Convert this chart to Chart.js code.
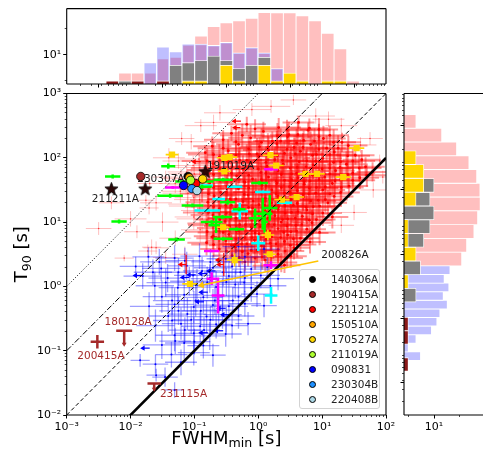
<!DOCTYPE html>
<html>
<head>
<meta charset="utf-8">
<title>FWHM vs T90</title>
<script src="https://cdn.jsdelivr.net/npm/chart.js@4.4.1/dist/chart.umd.min.js"></script>
<style>
  body { margin: 0; background: #fff; }
  #wrap { position: relative; width: 483px; height: 461px; overflow: hidden; font-family: "DejaVu Sans", sans-serif; }
  #wrap canvas { position: absolute; left: 0; top: 0; }
  #legend { position: absolute; left: 299px; top: 269px; width: 81px; height: 140px; box-sizing: border-box;
            border: 1px solid #d3d3d3; border-radius: 3px; background: rgba(255,255,255,0.85); }
  #legend .row { position: absolute; left: 0; width: 80px; height: 15px; }
  #legend .dot { position: absolute; left: 9px; top: 4px; width: 7px; height: 7px; border-radius: 50%;
                 box-sizing: border-box; border: 0.8px solid #000; }
  #legend .txt { position: absolute; left: 31px; top: 0; font-size: 10.5px; line-height: 15px; color: #222; }
</style>
</head>
<body>
<div id="wrap">
  <canvas id="top" width="483" height="461"></canvas>
  <canvas id="side" width="483" height="461"></canvas>
  <canvas id="main" width="483" height="461"></canvas>
  <div id="legend"></div>
</div>
<script>
// ===== histogram bins (log10 s) and counts =====
const fwhmBinEdges = [-3.000, -2.762, -2.524, -2.286, -2.048, -1.810, -1.571, -1.333, -1.095, -0.857, -0.619,
                      -0.381, -0.143, 0.095, 0.333, 0.571, 0.810, 1.048, 1.286, 1.524, 1.762, 2.000];
const fwhmCountsLong  = [0, 0, 2, 2, 2, 7, 8, 24, 53, 122, 170, 205, 255, 420, 410, 415, 316, 205, 68, 17, 1];
const fwhmCountsShort = [0, 0, 0, 0, 5, 20, 13, 26, 26, 23, 30, 12, 19, 12, 3, 0, 0, 0, 0, 0, 0];
const fwhmCountsGray  = [0, 0, 1, 0, 0, 0, 4, 5, 6, 9, 6, 3, 4, 8, 0, 0, 0, 0, 0, 0, 0];
const fwhmCountsGold  = [0, 0, 0, 0, 0, 0, 0, 1, 1, 0, 4, 1, 0, 4, 1, 2, 1, 0, 1, 1, 0];
const fwhmCountsDark  = [0, 1, 0, 1, 0, 1, 0, 0, 0, 0, 0, 0, 0, 0, 0, 0, 0, 0, 0, 0, 0];

const t90EdgesLong  = [0.301, 0.536, 0.772, 1.007, 1.243, 1.478, 1.714, 1.949, 2.185, 2.420, 2.656, 2.891];
const t90CountsLong = [120, 187, 360, 500, 630, 617, 460, 230, 76, 20, 2];
const t90EdgesShort  = [-1.317, -1.170, -1.023, -0.876, -0.729, -0.582, -0.435, -0.288, -0.141, 0.006, 0.154, 0.301];
const t90CountsShort = [3, 1, 2, 8, 13, 17, 33, 23, 38, 25, 42];
const t90EdgesGray  = [-0.318, -0.083, 0.151, 0.386, 0.621, 0.855, 1.090, 1.325, 1.559, 1.794];
const t90CountsGray = [2, 0, 3, 0, 4, 7, 10, 7, 10];
const t90EdgesGold  = [-0.085, 0.150, 0.386, 0.621, 0.857, 1.092, 1.328, 1.563, 1.799, 2.034, 2.270];
const t90CountsGold = [1, 0, 2, 1, 1, 0, 2, 4, 4, 2];
const t90EdgesDark  = [-1.500, -1.269, -1.038, -0.808, -0.577];
const t90CountsDark = [1, 0, 1, 1];

// ===== scatter data: [log10 FWHM, log10 T90, x err (dex), y err (dex)] =====
const longBursts = [
  [-0.18,2.52,.3,.12],[0.32,2.47,.35,.15],[0.63,2.55,.25,.1],[0.95,2.44,.3,.18],
  [-0.42,2.38,.3,.12],[0.08,2.41,.4,.15],[0.48,2.36,.3,.2],[0.78,2.43,.35,.12],[1.12,2.35,.3,.15],
  [-0.55,2.28,.3,.15],[-0.12,2.31,.35,.2],[0.22,2.26,.3,.15],[0.46,2.33,.4,.2],[0.71,2.27,.3,.15],[1.02,2.3,.35,.2],[1.31,2.24,.3,.15],
  [-0.72,2.18,.3,.15],[-0.31,2.21,.35,.2],[0.02,2.17,.3,.15],[0.29,2.22,.4,.2],[0.56,2.16,.3,.15],[0.82,2.21,.35,.2],[1.07,2.15,.3,.2],[1.41,2.19,.3,.15],
  [-0.83,2.08,.3,.12],[-0.47,2.11,.35,.18],[-0.14,2.06,.3,.2],[0.16,2.12,.4,.2],[0.41,2.07,.35,.18],[0.66,2.1,.3,.2],[0.91,2.05,.35,.2],[1.19,2.09,.3,.18],[1.52,2.04,.3,.15],
  [-0.61,2.01,.3,.2],[-0.29,1.96,.35,.2],[0.01,2.02,.4,.22],[0.26,1.97,.35,.2],[0.51,2.0,.3,.2],[0.76,1.95,.35,.22],[1.01,1.99,.3,.2],[1.29,1.94,.35,.2],[1.62,1.97,.3,.15],
  [-0.71,1.91,.3,.18],[-0.41,1.86,.35,.2],[-0.11,1.92,.4,.22],[0.14,1.87,.35,.2],[0.39,1.9,.4,.22],[0.61,1.85,.35,.2],[0.86,1.89,.3,.22],[1.12,1.84,.35,.2],[1.38,1.9,.3,.2],[1.68,1.86,.3,.15],
  [-0.82,1.81,.3,.18],[-0.52,1.76,.35,.2],[-0.24,1.82,.4,.22],[0.04,1.77,.35,.22],[0.31,1.8,.4,.2],[0.52,1.75,.35,.22],[0.71,1.79,.4,.2],[0.96,1.74,.35,.22],[1.21,1.8,.3,.2],[1.48,1.76,.35,.2],[1.79,1.78,.25,.15],
  [-0.62,1.66,.35,.2],[-0.34,1.72,.4,.22],[-0.09,1.67,.35,.22],[0.16,1.7,.4,.22],[0.41,1.65,.35,.2],[0.62,1.69,.4,.22],[0.81,1.64,.35,.22],[1.04,1.7,.35,.2],[1.31,1.66,.35,.2],[1.59,1.69,.3,.18],
  [-0.76,1.61,.35,.2],[-0.49,1.56,.35,.2],[-0.21,1.62,.4,.22],[0.06,1.57,.35,.22],[0.29,1.6,.4,.25],[0.49,1.55,.35,.22],[0.72,1.59,.4,.22],[0.91,1.54,.35,.22],[1.16,1.6,.35,.2],[1.42,1.56,.3,.18],
  [-0.88,1.51,.35,.2],[-0.59,1.46,.35,.22],[-0.31,1.52,.4,.22],[-0.04,1.47,.35,.22],[0.21,1.5,.4,.25],[0.41,1.45,.35,.22],[0.61,1.49,.4,.25],[0.79,1.44,.35,.22],[1.01,1.5,.35,.2],[1.29,1.46,.3,.2],
  [-0.69,1.41,.35,.2],[-0.44,1.36,.35,.22],[-0.16,1.42,.4,.22],[0.11,1.37,.35,.25],[0.31,1.4,.4,.25],[0.51,1.35,.35,.22],[0.71,1.39,.35,.22],[0.94,1.34,.35,.22],[1.19,1.4,.3,.2],
  [-0.79,1.31,.35,.2],[-0.51,1.26,.35,.22],[-0.24,1.32,.4,.22],[0.01,1.27,.35,.25],[0.21,1.3,.4,.25],[0.42,1.25,.35,.22],[0.61,1.29,.35,.22],[0.86,1.24,.35,.22],[1.09,1.3,.3,.2],
  [-0.61,1.21,.35,.2],[-0.36,1.16,.35,.22],[-0.09,1.22,.4,.25],[0.11,1.17,.35,.25],[0.31,1.2,.35,.25],[0.52,1.15,.35,.22],[0.76,1.19,.35,.22],[1.01,1.14,.3,.2],[1.16,1.08,.25,.18],
  [-0.71,1.11,.35,.22],[-0.44,1.06,.35,.22],[-0.19,1.12,.35,.25],[0.06,1.07,.35,.25],[0.26,1.1,.35,.25],[0.46,1.05,.35,.22],[0.69,1.09,.35,.22],[0.91,1.04,.3,.2],
  [-0.81,0.98,.3,.2],[-0.52,1.01,.35,.22],[-0.29,0.96,.35,.22],[-0.04,1.02,.35,.25],[0.16,0.97,.35,.25],[0.36,1.0,.35,.22],[0.59,0.95,.3,.22],[0.84,0.99,.3,.2],
  [-0.61,0.91,.35,.22],[-0.34,0.86,.35,.22],[-0.11,0.92,.35,.25],[0.11,0.87,.35,.22],[0.31,0.9,.35,.22],[0.51,0.85,.3,.22],[0.76,0.89,.3,.2],[0.96,0.84,.25,.2],
  [-0.71,0.78,.3,.2],[-0.46,0.81,.35,.22],[-0.21,0.76,.35,.22],[0.01,0.82,.35,.22],[0.21,0.77,.35,.22],[0.46,0.8,.3,.2],[0.66,0.75,.3,.2],
  [-0.81,0.68,.3,.2],[-0.51,0.71,.3,.2],[-0.26,0.66,.35,.22],[-0.06,0.72,.35,.22],[0.19,0.67,.3,.22],[0.41,0.7,.3,.2],[0.61,0.65,.3,.2],[0.81,0.69,.25,.18],
  [-0.61,0.58,.3,.2],[-0.36,0.61,.3,.2],[-0.11,0.56,.3,.2],[0.09,0.62,.3,.22],[0.31,0.57,.3,.2],[0.56,0.6,.25,.18],
  [-0.41,0.48,.3,.18],[-0.16,0.51,.3,.2],[0.06,0.46,.3,.2],[0.31,0.5,.3,.2],[0.51,0.47,.25,.18],
  [-0.21,0.38,.25,.15],[0.11,0.41,.3,.18],[0.36,0.37,.25,.15],[0.16,0.32,.25,.12],[0.41,0.33,.25,.12],
  [-0.05,2.45,.35,.15],[0.45,2.44,.4,.15],[0.8,2.46,.3,.15],
  [-0.25,2.35,.35,.18],[0.3,2.34,.4,.2],[0.62,2.36,.35,.18],[0.95,2.33,.4,.2],
  [-0.35,2.25,.4,.2],[0.05,2.24,.45,.22],[0.35,2.26,.4,.2],[0.6,2.23,.45,.22],[0.88,2.26,.4,.2],[1.18,2.24,.35,.2],
  [-0.55,2.15,.4,.2],[-0.15,2.14,.45,.22],[0.15,2.16,.45,.22],[0.45,2.13,.45,.25],[0.7,2.16,.4,.22],[0.95,2.13,.45,.22],[1.25,2.15,.35,.2],
  [-0.7,2.05,.4,.2],[-0.35,2.04,.45,.22],[-0.02,2.06,.45,.25],[0.3,2.03,.45,.25],[0.58,2.06,.45,.25],[0.85,2.04,.45,.25],[1.12,2.05,.4,.22],[1.4,2.03,.35,.2],
  [-0.8,1.95,.4,.2],[-0.48,1.94,.45,.22],[-0.18,1.96,.45,.25],[0.12,1.93,.45,.25],[0.38,1.96,.45,.25],[0.64,1.94,.45,.25],[0.9,1.95,.45,.25],[1.18,1.93,.4,.22],[1.48,1.95,.35,.2],
  [-0.6,1.84,.45,.22],[-0.3,1.86,.45,.25],[0.0,1.83,.45,.25],[0.25,1.86,.45,.25],[0.5,1.84,.45,.25],[0.75,1.86,.45,.25],[1.0,1.83,.45,.25],[1.28,1.85,.4,.22],[1.58,1.84,.35,.2],
  [-0.7,1.74,.45,.22],[-0.42,1.76,.45,.25],[-0.15,1.73,.45,.25],[0.12,1.76,.45,.25],[0.36,1.74,.45,.25],[0.6,1.76,.45,.25],[0.85,1.73,.45,.25],[1.12,1.75,.45,.22],[1.4,1.74,.4,.22],[1.7,1.73,.3,.18],
  [-0.78,1.64,.45,.22],[-0.48,1.66,.45,.25],[-0.22,1.63,.45,.25],[0.05,1.66,.45,.25],[0.28,1.64,.45,.25],[0.52,1.66,.45,.25],[0.72,1.63,.45,.25],[0.95,1.66,.45,.25],[1.2,1.64,.4,.22],[1.48,1.65,.35,.2],
  [-0.7,1.54,.45,.22],[-0.42,1.56,.45,.25],[-0.15,1.53,.45,.25],[0.12,1.56,.45,.25],[0.36,1.54,.45,.25],[0.58,1.56,.45,.25],[0.8,1.53,.45,.25],[1.05,1.55,.4,.22],[1.3,1.54,.35,.2],
  [-0.78,1.44,.45,.22],[-0.5,1.46,.45,.25],[-0.22,1.43,.45,.25],[0.05,1.46,.45,.25],[0.28,1.44,.45,.25],[0.5,1.46,.45,.25],[0.7,1.43,.45,.25],[0.9,1.45,.4,.22],[1.12,1.44,.35,.2],
  [-0.62,1.34,.45,.22],[-0.35,1.36,.45,.25],[-0.08,1.33,.45,.25],[0.18,1.36,.45,.25],[0.4,1.34,.45,.25],[0.62,1.36,.45,.25],[0.82,1.33,.4,.22],[1.05,1.35,.35,.2],
  [-0.7,1.24,.45,.22],[-0.42,1.26,.45,.25],[-0.15,1.23,.45,.25],[0.1,1.26,.45,.25],[0.32,1.24,.45,.25],[0.55,1.26,.4,.25],[0.75,1.23,.4,.22],[0.96,1.25,.35,.2],
  [-0.78,1.15,.4,.2],[-0.5,1.14,.45,.22],[-0.25,1.16,.45,.25],[0.0,1.13,.45,.25],[0.22,1.16,.45,.25],[0.42,1.14,.4,.22],[0.62,1.16,.4,.22],[0.85,1.13,.35,.2],
  [-0.6,1.04,.4,.22],[-0.35,1.06,.45,.25],[-0.1,1.03,.45,.25],[0.15,1.06,.4,.25],[0.38,1.04,.4,.22],[0.58,1.06,.35,.22],[0.8,1.03,.35,.2],
  [-0.7,0.95,.4,.2],[-0.45,0.94,.4,.22],[-0.2,0.96,.4,.25],[0.03,0.93,.4,.22],[0.25,0.96,.4,.22],[0.45,0.94,.35,.22],[0.68,0.96,.3,.2],
  [-0.8,0.85,.35,.2],[-0.55,0.84,.4,.22],[-0.3,0.86,.4,.22],[-0.05,0.83,.4,.22],[0.18,0.86,.4,.22],[0.4,0.84,.35,.2],[0.6,0.86,.3,.2],[0.85,0.83,.25,.18],
  [-0.62,0.75,.35,.2],[-0.35,0.74,.4,.22],[-0.1,0.76,.4,.22],[0.12,0.73,.35,.22],[0.35,0.76,.35,.2],[0.55,0.74,.3,.2],
  [-0.7,0.65,.35,.2],[-0.42,0.64,.35,.2],[-0.18,0.66,.35,.22],[0.05,0.63,.35,.2],[0.28,0.66,.3,.2],[0.5,0.64,.3,.18],
  [-0.5,0.55,.3,.18],[-0.25,0.54,.35,.2],[-0.02,0.56,.35,.2],[0.2,0.53,.3,.2],[0.42,0.55,.3,.18],
  [-0.3,0.45,.3,.15],[-0.05,0.44,.3,.18],[0.2,0.46,.3,.18],[0.45,0.44,.25,.15]
];
const longHalo = [
  [-0.93,1.98,.3,.15],[-1.02,1.88,.3,.15],[-1.12,1.78,.3,.15],[-1.21,1.68,.3,.15],[-0.91,1.71,.3,.2],[-1.13,1.58,.3,.15],
  [-1.22,1.48,.3,.18],[-1.01,1.38,.3,.18],[-1.11,1.28,.3,.18],[-0.91,1.18,.3,.2],[-1.01,1.08,.3,.2],[-0.91,0.88,.3,.2],
  [-0.92,1.85,.4,.2],[-1.0,1.75,.4,.2],[-1.05,1.65,.4,.2],[-0.98,1.55,.4,.2],[-1.1,1.45,.4,.2],[-0.92,1.35,.4,.2],
  [-1.0,1.25,.4,.2],[-0.88,1.05,.4,.2],
  [-2.3,1.3,.2,.1],[-2.5,0.9,.2,.1],[-2.0,1.05,.25,.12],[-1.9,0.85,.2,.1],[-1.6,1.3,.25,.12],[-1.5,1.0,.25,.15],
  [-1.3,1.6,.25,.15],[-1.7,1.6,.2,.1],[-1.4,2.0,.25,.15],[-1.2,2.3,.2,.1],[-0.9,2.5,.25,.1],[-0.6,2.7,.25,.12],
  [-0.1,2.75,.3,.1],[0.55,2.9,.2,.08],[0.9,2.65,.3,.12],[1.3,2.5,.25,.12],[1.6,2.2,.25,.12],[1.9,1.95,.15,.1],
  [1.5,1.15,.2,.12],[1.8,1.5,.2,.12],[-1.6,0.6,.2,.1],[-1.3,0.75,.25,.12],[-1.71,1.22,.15,.1],[-1.73,0.55,.15,.1],
  [-2.1,0.44,.15,.05],[-1.67,0.61,.15,.12],[-1.76,1.34,.12,.08],[-1.45,1.7,.2,.1],[-1.25,1.95,.25,.12],
  [-1.05,2.25,.25,.12],[-0.7,2.55,.3,.12],[0.2,2.8,.3,.1],[1.1,2.6,.25,.12],[1.75,2.3,.2,.1],[1.95,1.7,.15,.1],
  [1.3,0.95,.2,.12],[-1.45,0.45,.2,.1],[-1.15,0.5,.2,.12]
];
const shortBursts = [
  [-1.72,0.46,.25,.15],[-1.31,0.44,.3,.2],[-0.92,0.47,.3,.2],[-0.51,0.43,.3,.2],[-0.21,0.46,.25,.18],
  [-1.92,0.31,.25,.15],[-1.52,0.28,.3,.2],[-1.12,0.32,.3,.22],[-0.71,0.29,.3,.2],[-0.41,0.31,.3,.22],[-0.11,0.27,.3,.2],[0.14,0.3,.25,.18],
  [-1.81,0.16,.3,.2],[-1.42,0.13,.3,.22],[-1.02,0.17,.3,.25],[-0.76,0.12,.3,.22],[-0.46,0.16,.3,.25],[-0.21,0.13,.3,.22],[0.04,0.17,.3,.2],[0.31,0.12,.25,.18],
  [-1.62,0.01,.3,.22],[-1.26,-0.02,.3,.25],[-0.96,0.02,.3,.25],[-0.66,-0.01,.3,.25],[-0.36,0.03,.3,.22],[-0.11,-0.02,.3,.22],[0.19,0.01,.25,.2],
  [-1.51,-0.16,.3,.25],[-1.16,-0.13,.3,.25],[-0.86,-0.17,.3,.25],[-0.56,-0.14,.3,.25],[-0.31,-0.16,.3,.22],[-0.02,-0.12,.25,.2],
  [-1.71,-0.31,.3,.22],[-1.31,-0.28,.3,.25],[-1.01,-0.32,.3,.25],[-0.71,-0.29,.3,.25],[-0.46,-0.31,.3,.22],[-0.21,-0.27,.25,.2],[0.09,-0.3,.2,.18],
  [-1.41,-0.46,.3,.25],[-1.11,-0.43,.3,.25],[-0.81,-0.47,.3,.25],[-0.56,-0.44,.3,.22],[-0.31,-0.46,.25,.2],
  [-1.61,-0.61,.3,.25],[-1.21,-0.58,.3,.25],[-0.91,-0.62,.3,.25],[-0.66,-0.59,.25,.22],[-0.41,-0.61,.25,.2],[-0.16,-0.58,.2,.18],
  [-1.31,-0.76,.3,.25],[-1.01,-0.73,.3,.25],[-0.76,-0.77,.25,.22],[-0.51,-0.74,.25,.2],
  [-1.51,-0.91,.3,.22],[-1.16,-0.88,.3,.25],[-0.86,-0.92,.25,.2],
  [-1.36,-1.06,.25,.2],[-1.01,-1.03,.25,.2],[-0.71,-1.07,.2,.18],
  [-1.61,-1.21,.2,.15],[-1.21,-1.18,.25,.2],[-1.46,-1.41,.2,.15],[-1.31,-1.61,.15,.12],[-1.85,-1.15,.15,.1],[-1.6,-1.38,.15,.1],
  [-0.31,0.62,.25,.15],[0.09,0.58,.25,.15],
  [-1.55,0.38,.3,.2],[-1.15,0.4,.3,.2],[-0.75,0.38,.3,.2],[-0.35,0.38,.3,.2],[-1.65,0.22,.3,.2],[-1.25,0.22,.3,.22],
  [-0.88,0.24,.3,.22],[-0.55,0.22,.3,.22],[-0.28,0.22,.3,.2],[-1.45,0.06,.3,.22],[-1.08,0.08,.3,.22],[-0.8,0.06,.3,.25],
  [-0.5,0.07,.3,.22],[-0.22,0.06,.3,.2],[-1.35,-0.22,.3,.22],[-0.98,-0.22,.3,.25],[-0.68,-0.22,.3,.22],[-0.4,-0.22,.25,.2],
  [-1.25,-0.38,.3,.22],[-0.9,-0.38,.3,.22],[-0.62,-0.37,.25,.22],[-1.35,-0.53,.3,.22],[-1.05,-0.52,.3,.22],[-0.75,-0.52,.25,.2],
  [-0.5,-0.52,.25,.2],[-1.15,-0.68,.25,.2],[-0.85,-0.68,.25,.2],[-1.3,-0.85,.25,.2],[-1.0,-0.86,.25,.2]
];
// FWHM upper limits: [log10 FWHM, log10 T90, arrow length (dex), y err (dex)]
const longLimits = [[-0.27,2.57,.15,0],[-0.28,2.47,.13,0],[-0.90,1.94,.15,0],[-1.13,0.34,.13,.15],
                    [-0.54,0.34,.12,.18],[-0.64,0.77,.12,0],[-0.56,0.41,.12,0],[-0.30,0.64,.12,0]];
const shortLimits = [[-1.82,0.17,.15,0],[-1.08,0.14,.15,0],[-0.98,0.18,.15,0],[-0.80,0.20,.15,0],[-0.67,0.24,.15,0],
                     [-0.65,0.12,.15,0],[-0.79,-0.09,.15,0],[-0.85,-0.24,.15,0],[-0.51,-0.34,.15,0],[-0.45,-0.44,.15,0],
                     [-0.55,-0.69,.15,0],[-0.79,-0.72,.15,0],[-1.70,-0.96,.15,0]];
const greenBursts = [[-2.28,1.71,.12,.03],[-1.41,1.87,.11,.04],[-2.18,1.01,.12,.03],[-1.28,0.73,.13,.03],[-1.03,1.26,.17,.03],
                     [-1.38,1.41,.2,.03],[-1.0,1.63,.3,.03],[-0.55,1.66,.15,.03],[-0.48,1.31,.12,.04],[0.02,1.61,.13,.03],
                     [0.07,1.13,.15,.25],[-0.56,1.08,.15,.03],[-0.73,1.0,.17,.03],[0.18,1.22,.12,.2],[-0.66,0.95,.12,.12],
                     [-0.55,0.74,.15,.03],[-0.34,0.89,.12,.03],[-0.05,1.06,.1,.15],[0.1,1.0,.05,.17],[-0.88,1.55,.15,.03],[-0.3,1.2,.1,.03]];
const cyanBursts = [[-0.81,1.57,.1,.02],[-0.8,1.18,.2,.02],[-0.37,1.55,.12,.02],[0.07,1.47,.12,.02],[0.41,1.3,.12,.02],
                    [-0.29,1.17,.13,.13],[0.0,0.67,.11,.12],[0.2,-0.14,.1,.13],[-0.62,1.36,.1,.02]];
const magentaBursts = [[-1.34,1.54,.12,.02],[0.2,1.82,.11,.02],[-0.73,0.55,.12,.02],[-0.73,0.12,.08,.1],[-0.63,-0.14,.1,.28],[0.2,0.33,.12,.06]];
const goldBursts = [[-1.35,2.05,.1,.03],[-0.53,2.0,.12,.04],[-0.45,2.01,.12,.04],[0.19,2.04,.12,.04],[0.28,1.88,.12,.04],
                    [-0.53,1.79,.1,.04],[0.74,1.75,.12,.04],[0.92,1.75,.12,.04],[1.33,1.7,.12,.04],[1.54,2.15,.12,.04],
                    [0.6,1.39,.12,.04],[0.37,1.35,.12,.04],[-0.55,0.92,.1,.04],[0.15,0.8,.1,.08],[0.18,0.5,.1,.04],
                    [-0.37,0.41,.12,.1],[-1.07,0.04,.12,.03]];

const sampleNames  = ['140306A', '190415A', '221121A', '150510A', '170527A', '211019A', '090831', '230304B', '220408B'];
const sampleColors = ['#000000', '#a52a2a', '#ff0000', '#ffa500', '#ffd700', '#adff2f', '#0000ff', '#1e90ff', '#add8e6'];
const sampleFwhm   = [-1.10, -1.84, -0.98, -1.08, -0.87, -1.06, -1.17, -1.04, -0.96];
const sampleT90    = [1.71, 1.71, 1.60, 1.69, 1.67, 1.65, 1.57, 1.52, 1.49];

const starNames = ['211211A', '230307A', '191019A'];
const starFwhm  = [-2.30, -1.77, -0.83];
const starT90   = [1.52, 1.52, 1.79];

const brownCross = [[-2.52, -0.86, 0.105, 0.104]];                     // 200415A
const brownUpper = [[-2.10, -0.69, 0.125, 0.25], [-1.63, -1.51, 0.105, 0.13]]; // 180128A, 231115A: cap, stem (dex)
const arrow200826A = [[0.94, 0.396, -0.95, 0.007]];                     // from label to burst

const lineRatios = [1, 10, 100, 1000];   // T90 = k * FWHM

const burstLabels = [
  ['211211A', -2.30, 1.52, 4, 11, '#1a1a1a', 'center'],
  ['230307A', -1.77, 1.52, -8, -9, '#1a1a1a', 'left'],
  ['191019A', -0.83, 1.79, 1.6, -5, '#1a1a1a', 'left'],
  ['200826A', 0.94, 0.396, 3, -6, '#1a1a1a', 'left'],
  ['180128A', -2.10, -0.69, 4, -9, '#a52a2a', 'center'],
  ['200415A', -2.52, -0.86, 3.6, 15, '#a52a2a', 'center'],
  ['231115A', -1.63, -1.51, 5.7, 10.7, '#a52a2a', 'left']
];

const xMajorTicks = [1e-3, 1e-2, 1e-1, 1, 10, 100];
const xTickLabels = ['10⁻³', '10⁻²', '10⁻¹', '10⁰', '10¹', '10²'];
const yMajorTicks = [1e-2, 1e-1, 1, 10, 100, 1000];
const yTickLabels = ['10⁻²', '10⁻¹', '10⁰', '10¹', '10²', '10³'];
const histMajorTicks = [10];
const histMinorTicks = [1, 100];
const histTickLabels = ['10¹'];

// ===== helpers =====
const F = v => Math.pow(10, v);
const FONT = 'DejaVu Sans';

function minorTicks(lo, hi) {
  const out = [];
  for (let k = Math.floor(Math.log10(lo)); k <= Math.ceil(Math.log10(hi)); k++) {
    for (let m = 2; m <= 9; m++) {
      const v = m * Math.pow(10, k);
      if (v > lo && v < hi) out.push(v);
    }
  }
  return out;
}

function toPoints(rows) {
  return rows.map(([lx, ly, ex, ey]) => ({
    x: F(lx), y: F(ly),
    xMin: ex ? F(lx - ex) : null, xMax: ex ? F(lx + ex) : null,
    yMin: ey ? F(ly - ey) : null, yMax: ey ? F(ly + ey) : null
  }));
}
function toLimits(rows) {
  return rows.map(([lx, ly, len, ey]) => ({
    x: F(lx), y: F(ly), xEnd: F(lx - len),
    yMin: ey ? F(ly - ey) : null, yMax: ey ? F(ly + ey) : null
  }));
}
function histBars(edges, counts, horizontal) {
  const out = [];
  counts.forEach((c, i) => {
    if (!c) return;
    const mid = (edges[i] + edges[i + 1]) / 2;
    out.push(horizontal ? { x: c, y: mid } : { x: mid, y: c });
  });
  return out;
}

function tickAxis(o) {
  return {
    type: 'logarithmic', axis: o.axis, position: o.position, min: o.min, max: o.max, weight: o.weight,
    border: { display: false },
    grid: { drawOnChartArea: false, drawTicks: true, tickLength: o.length, tickWidth: o.width, tickColor: '#000', lineWidth: 1 },
    ticks: {
      display: !!o.labels, autoSkip: false, maxRotation: 0, padding: 2, color: '#000',
      font: { family: FONT, size: 11 },
      callback: (v, i) => (o.labels ? o.labels[i] : '')
    },
    afterBuildTicks: s => { s.ticks = o.values.map(v => ({ value: v })); },
    afterFit: s => { if (s.isHorizontal()) s.height = o.size; else s.width = o.size; }
  };
}

function drawArrow(ctx, x0, y0, x1, y1, head) {
  const a = Math.atan2(y1 - y0, x1 - x0);
  ctx.beginPath();
  ctx.moveTo(x0, y0);
  ctx.lineTo(x1 - Math.cos(a) * head * 0.6, y1 - Math.sin(a) * head * 0.6);
  ctx.stroke();
  ctx.beginPath();
  ctx.moveTo(x1, y1);
  ctx.lineTo(x1 - head * Math.cos(a) + head * 0.6 * Math.sin(a), y1 - head * Math.sin(a) - head * 0.6 * Math.cos(a));
  ctx.lineTo(x1 - head * Math.cos(a) - head * 0.6 * Math.sin(a), y1 - head * Math.sin(a) + head * 0.6 * Math.cos(a));
  ctx.closePath();
  ctx.fill();
}

function drawBurstLabels(chart) {
  const { ctx, scales: { x, y } } = chart;
  ctx.save();
  ctx.font = '10.5px "' + FONT + '"';
  ctx.textBaseline = 'middle';
  burstLabels.forEach(([text, lx, ly, dx, dy, color, align]) => {
    ctx.fillStyle = color;
    ctx.textAlign = align;
    ctx.fillText(text, x.getPixelForValue(F(lx)) + dx, y.getPixelForValue(F(ly)) + dy);
  });
  ctx.restore();
}

// error bars before the points, arrows (and labels) after them
const errorBars = {
  id: 'errorBars',
  beforeDatasetDraw(chart, args) {
    const ds = chart.data.datasets[args.index];
    if (!ds.err) return;
    const { ctx, chartArea: a, scales: { x, y } } = chart;
    ctx.save();
    ctx.beginPath();
    ctx.rect(a.left, a.top, a.right - a.left, a.bottom - a.top);
    ctx.clip();
    ctx.strokeStyle = ds.err.color;
    ctx.lineWidth = ds.err.width;
    for (const p of ds.data) {
      const px = x.getPixelForValue(p.x), py = y.getPixelForValue(p.y);
      if (p.xMin != null) {
        ctx.beginPath();
        ctx.moveTo(x.getPixelForValue(p.xMin), py);
        ctx.lineTo(x.getPixelForValue(p.xMax), py);
        ctx.stroke();
      }
      if (p.yMin != null) {
        ctx.beginPath();
        ctx.moveTo(px, y.getPixelForValue(p.yMin));
        ctx.lineTo(px, y.getPixelForValue(p.yMax));
        ctx.stroke();
      }
    }
    ctx.restore();
  },
  afterDatasetDraw(chart, args) {
    const ds = chart.data.datasets[args.index];
    if (ds.labelsAfter) drawBurstLabels(chart);
    if (!ds.arrow) return;
    const { ctx, scales: { x, y } } = chart;
    ctx.save();
    ctx.strokeStyle = ds.arrow.color;
    ctx.fillStyle = ds.arrow.color;
    ctx.lineWidth = ds.arrow.width;
    for (const p of ds.data) {
      const px = x.getPixelForValue(p.x), py = y.getPixelForValue(p.y);
      const ex = p.xEnd != null ? x.getPixelForValue(p.xEnd) : px;
      const ey = p.yEnd != null ? y.getPixelForValue(p.yEnd) : py;
      drawArrow(ctx, px, py, ex, ey, ds.arrow.head);
    }
    ctx.restore();
  }
};

function drawSubText(ctx, base, sub, tail, cx, cy, size) {
  const f = size + 'px "' + FONT + '"', fs = (size * 0.7) + 'px "' + FONT + '"';
  ctx.font = f;
  const w1 = ctx.measureText(base).width, w3 = ctx.measureText(tail).width;
  ctx.font = fs;
  const w2 = ctx.measureText(sub).width;
  const x0 = cx - (w1 + w2 + w3) / 2;
  ctx.textAlign = 'left';
  ctx.textBaseline = 'alphabetic';
  ctx.font = f; ctx.fillText(base, x0, cy);
  ctx.font = fs; ctx.fillText(sub, x0 + w1, cy + size * 0.22);
  ctx.font = f; ctx.fillText(tail, x0 + w1 + w2, cy);
}

const axisTitles = {
  id: 'axisTitles',
  afterDraw(chart) {
    const { ctx, chartArea: a } = chart;
    ctx.save();
    ctx.fillStyle = '#000';
    drawSubText(ctx, 'FWHM', 'min', ' [s]', (a.left + a.right) / 2, 443.5, 18);
    ctx.translate(27, (a.top + a.bottom) / 2);
    ctx.rotate(-Math.PI / 2);
    drawSubText(ctx, 'T', '90', ' [s]', 0, 0, 18);
    ctx.restore();
  }
};

const frame = {
  id: 'frame',
  afterDraw(chart, args, opts) {
    const { ctx, chartArea: a } = chart;
    const s = opts.sides || 'tlrb';
    ctx.save();
    ctx.strokeStyle = '#000';
    ctx.lineWidth = 1.1;
    ctx.beginPath();
    if (s.includes('t')) { ctx.moveTo(a.left, a.top); ctx.lineTo(a.right, a.top); }
    if (s.includes('b')) { ctx.moveTo(a.left, a.bottom); ctx.lineTo(a.right, a.bottom); }
    if (s.includes('l')) { ctx.moveTo(a.left, a.top); ctx.lineTo(a.left, a.bottom); }
    if (s.includes('r')) { ctx.moveTo(a.right, a.top); ctx.lineTo(a.right, a.bottom); }
    ctx.stroke();
    ctx.restore();
  }
};

function starImage(size, fill) {
  const c = document.createElement('canvas');
  c.width = c.height = size;
  const g = c.getContext('2d');
  const r = size / 2 - 0.6, ri = r * 0.42, m = size / 2;
  g.beginPath();
  for (let i = 0; i < 10; i++) {
    const ang = -Math.PI / 2 + i * Math.PI / 5;
    const rr = i % 2 ? ri : r;
    g.lineTo(m + rr * Math.cos(ang), m + 0.6 + rr * Math.sin(ang));
  }
  g.closePath();
  g.fillStyle = fill;
  g.fill();
  g.strokeStyle = '#000';
  g.lineWidth = 0.8;
  g.stroke();
  return c;
}

// ===== main scatter =====
const lineStyles = [
  { width: 2.6, dash: [] },
  { width: 1, dash: [4, 2.5] },
  { width: 1, dash: [6, 2, 1.5, 2] },
  { width: 1, dash: [1, 2] }
];

const mainDatasets = [
  { data: toPoints(longHalo), err: { color: 'rgba(255,0,0,0.25)', width: 1 },
    pointRadius: 0.8, backgroundColor: 'rgba(255,0,0,0.6)', borderWidth: 0, order: 10 },
  { data: toPoints(longBursts), err: { color: 'rgba(255,0,0,0.4)', width: 2 },
    pointRadius: 1.4, backgroundColor: '#ff0000', borderWidth: 0, order: 9 },
  { data: toPoints(shortBursts), err: { color: 'rgba(0,0,255,0.38)', width: 1.3 },
    pointRadius: 1, backgroundColor: '#0000ff', borderWidth: 0, order: 8 },
  { data: toLimits(longLimits), err: { color: '#ff0000', width: 1.2 }, arrow: { color: '#ff0000', width: 1.2, head: 4.5 },
    pointRadius: 0, order: 7 },
  { data: toLimits(shortLimits), err: { color: '#0000ff', width: 1.2 }, arrow: { color: '#0000ff', width: 1.2, head: 4.5 },
    pointRadius: 0, order: 7 },
  { data: toPoints(magentaBursts), err: { color: '#ff00ff', width: 2.5 }, pointRadius: 0, order: 6 },
  { data: toPoints(greenBursts), err: { color: '#00ff00', width: 2.5 }, pointRadius: 0, order: 5 },
  { data: toPoints(cyanBursts), err: { color: '#00ffff', width: 2.5 }, pointRadius: 0, order: 5 },
  { data: toPoints(goldBursts), err: { color: '#ffd700', width: 1.6 },
    pointStyle: 'rect', pointRadius: 4.4, backgroundColor: '#ffd700', borderWidth: 0, order: 4 },
  ...lineRatios.map((k, i) => ({
    type: 'line', data: [{ x: 1e-3, y: k * 1e-3 }, { x: 1e2, y: k * 1e2 }],
    borderColor: '#000', borderWidth: lineStyles[i].width, borderDash: lineStyles[i].dash,
    pointRadius: 0, fill: false, order: 3
  })),
  { data: arrow200826A.map(([lx, ly, lx2, ly2]) => ({ x: F(lx), y: F(ly), xEnd: F(lx2), yEnd: F(ly2) })),
    arrow: { color: '#ffc400', width: 1.6, head: 6 }, pointRadius: 0, order: 2 },
  { data: toPoints(brownCross), err: { color: '#a52a2a', width: 2.5 }, pointRadius: 0, order: 2 },
  { data: brownUpper.map(([lx, ly, cap, stem]) => ({ x: F(lx), y: F(ly), xMin: F(lx - cap), xMax: F(lx + cap), yEnd: F(ly - stem) })),
    err: { color: '#a52a2a', width: 2.5 }, arrow: { color: '#a52a2a', width: 2.5, head: 4 }, pointRadius: 0, order: 2 },
  { data: starFwhm.map((v, i) => ({ x: F(v), y: F(starT90[i]) })), labelsAfter: true,
    pointStyle: starImage(15, '#2b0707'), pointRadius: 6, order: 1 },
  { data: sampleFwhm.map((v, i) => ({ x: F(v), y: F(sampleT90[i]) })),
    pointStyle: 'circle', pointRadius: 4.2, backgroundColor: sampleColors, borderColor: '#000', borderWidth: 0.8, order: 0 }
].map(d => Object.assign({ xAxisID: 'x', yAxisID: 'y' }, d));

new Chart(document.getElementById('main'), {
  type: 'scatter',
  data: { datasets: mainDatasets },
  options: {
    responsive: false, animation: false, events: [],
    layout: { padding: { left: 0, top: 93.5, right: 97, bottom: 0 } },
    plugins: { legend: { display: false }, tooltip: { enabled: false }, frame: { sides: 'tlrb' } },
    scales: {
      x: tickAxis({ axis: 'x', position: 'bottom', min: 1e-3, max: 1e2, weight: 1, values: xMajorTicks, labels: xTickLabels, length: 3.5, width: 1, size: 46 }),
      y: tickAxis({ axis: 'y', position: 'left', min: 1e-2, max: 1e3, weight: 1, values: yMajorTicks, labels: yTickLabels, length: 3.5, width: 1, size: 66.7 }),
      xm: tickAxis({ axis: 'x', position: 'bottom', min: 1e-3, max: 1e2, weight: 0, values: minorTicks(1e-3, 1e2), labels: null, length: 2, width: 0.7, size: 0 }),
      ym: tickAxis({ axis: 'y', position: 'left', min: 1e-2, max: 1e3, weight: 0, values: minorTicks(1e-2, 1e3), labels: null, length: 2, width: 0.7, size: 0 })
    }
  },
  plugins: [errorBars, axisTitles, frame]
});

// ===== top histogram (FWHM) =====
const barStyle = { barPercentage: 1, categoryPercentage: 1, grouped: false, borderColor: '#ffffff', borderWidth: 0.8, borderSkipped: 'start' };
const topSets = [
  [fwhmCountsGold, '#ffd700', 0], [fwhmCountsDark, '#8b1a1a', 1], [fwhmCountsGray, '#808080', 2],
  [fwhmCountsShort, 'rgba(0,0,255,0.25)', 3], [fwhmCountsLong, 'rgba(255,0,0,0.25)', 4]
];
new Chart(document.getElementById('top'), {
  type: 'bar',
  data: {
    datasets: topSets.map(([counts, color, order]) => ({
      data: histBars(fwhmBinEdges, counts, false), backgroundColor: color, order, xAxisID: 'xb', yAxisID: 'y'
    }))
  },
  options: {
    responsive: false, animation: false, events: [],
    layout: { padding: { left: 0, top: 3, right: 97, bottom: 377 } },
    datasets: { bar: barStyle },
    plugins: { legend: { display: false }, tooltip: { enabled: false }, frame: { sides: 'tlrb' } },
    scales: {
      xb: { type: 'linear', axis: 'x', min: -3, max: 2, display: false },
      y: tickAxis({ axis: 'y', position: 'left', min: 0.762, max: 595, weight: 1, values: histMajorTicks, labels: histTickLabels, length: 3.5, width: 1, size: 66.7 }),
      ym: tickAxis({ axis: 'y', position: 'left', min: 0.762, max: 595, weight: 0, values: histMinorTicks, labels: null, length: 2, width: 0.7, size: 0 }),
      xt: tickAxis({ axis: 'x', position: 'bottom', min: 1e-3, max: 1e2, weight: 1, values: xMajorTicks, labels: null, length: 3.5, width: 1, size: 0 }),
      xtm: tickAxis({ axis: 'x', position: 'bottom', min: 1e-3, max: 1e2, weight: 0, values: minorTicks(1e-3, 1e2), labels: null, length: 2, width: 0.7, size: 0 })
    }
  },
  plugins: [frame]
});

// ===== side histogram (T90) =====
const sideSets = [
  ['yGold', t90EdgesGold, t90CountsGold, '#ffd700', 0],
  ['yDark', t90EdgesDark, t90CountsDark, '#8b1a1a', 1],
  ['yGray', t90EdgesGray, t90CountsGray, '#808080', 2],
  ['yShort', t90EdgesShort, t90CountsShort, 'rgba(0,0,255,0.25)', 3],
  ['yLong', t90EdgesLong, t90CountsLong, 'rgba(255,0,0,0.25)', 4]
];
const sideScales = {
  x: tickAxis({ axis: 'x', position: 'bottom', min: 0.68, max: 807, weight: 1, values: histMajorTicks, labels: histTickLabels, length: 3.5, width: 1, size: 46 }),
  xm: tickAxis({ axis: 'x', position: 'bottom', min: 0.68, max: 807, weight: 0, values: histMinorTicks, labels: null, length: 2, width: 0.7, size: 0 }),
  yt: tickAxis({ axis: 'y', position: 'left', min: 1e-2, max: 1e3, weight: 1, values: yMajorTicks, labels: null, length: 3.5, width: 1, size: 0 }),
  ytm: tickAxis({ axis: 'y', position: 'left', min: 1e-2, max: 1e3, weight: 0, values: minorTicks(1e-2, 1e3), labels: null, length: 2, width: 0.7, size: 0 })
};
sideSets.forEach(([id]) => { sideScales[id] = { type: 'linear', axis: 'y', min: -2, max: 3, display: false }; });

new Chart(document.getElementById('side'), {
  type: 'bar',
  data: {
    datasets: sideSets.map(([id, edges, counts, color, order]) => ({
      data: histBars(edges, counts, true), backgroundColor: color, order, xAxisID: 'x', yAxisID: id
    }))
  },
  options: {
    indexAxis: 'y',
    responsive: false, animation: false, events: [],
    layout: { padding: { left: 404, top: 93.5, right: 0, bottom: 0 } },
    datasets: { bar: barStyle },
    plugins: { legend: { display: false }, tooltip: { enabled: false }, frame: { sides: 'tlb' } },
    scales: sideScales
  },
  plugins: [frame]
});

// ===== legend =====
const legend = document.getElementById('legend');
sampleNames.forEach((name, i) => {
  const row = document.createElement('div');
  row.className = 'row';
  row.style.top = (1.5 + i * 15.1) + 'px';
  const dot = document.createElement('span');
  dot.className = 'dot';
  dot.style.backgroundColor = sampleColors[i];
  const txt = document.createElement('span');
  txt.className = 'txt';
  txt.textContent = name;
  row.appendChild(dot);
  row.appendChild(txt);
  legend.appendChild(row);
});
</script>
</body>
</html>
